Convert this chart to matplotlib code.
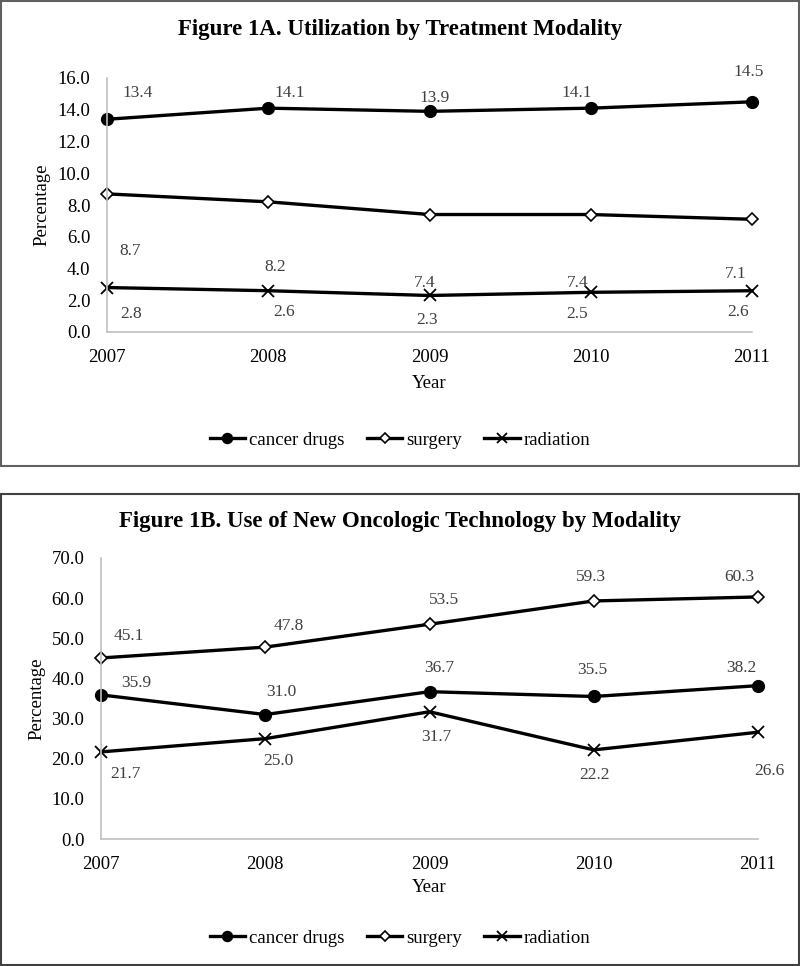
import matplotlib
matplotlib.use("Agg")
import matplotlib.pyplot as plt
from matplotlib.patches import Rectangle

plt.rcParams['font.family'] = ['Liberation Serif', 'DejaVu Serif']

years = [2007, 2008, 2009, 2010, 2011]
series_names = ["cancer drugs", "surgery", "radiation"]

a_cancer = [13.4, 14.1, 13.9, 14.1, 14.5]
a_surgery = [8.7, 8.2, 7.4, 7.4, 7.1]
a_radiation = [2.8, 2.6, 2.3, 2.5, 2.6]

b_cancer = [35.9, 31.0, 36.7, 35.5, 38.2]
b_surgery = [45.1, 47.8, 53.5, 59.3, 60.3]
b_radiation = [21.7, 25.0, 31.7, 22.2, 26.6]

title_a = "Figure 1A. Utilization by Treatment Modality"
title_b = "Figure 1B. Use of New Oncologic Technology by Modality"

# label offsets in pixels (dx, dy with dy positive = down)
off_a = {
    "cancer drugs": [(31, -26), (21, -15), (5, -13), (-14, -15), (-3, -30)],
    "surgery": [(23, 57), (7, 65), (-5, 68), (-13, 68), (-16, 55)],
    "radiation": [(24, 26), (16, 21), (-2, 25), (-14, 22), (-14, 21)],
}
off_b = {
    "cancer drugs": [(35, -12), (16, -23), (10, -24), (-2, -26), (-17, -18)],
    "surgery": [(28, -22), (23, -21), (14, -24), (-3, -24), (-19, -20)],
    "radiation": [(24, 22), (13, 22), (7, 25), (1, 25), (11, 39)],
}

styles = {
    "cancer drugs": dict(marker='o', markersize=8.5, markerfacecolor='black', markeredgecolor='black'),
    "surgery": dict(marker='D', markersize=6.5, markerfacecolor='white', markeredgecolor='black', markeredgewidth=1.2),
    "radiation": dict(marker='x', markersize=8, markeredgecolor='black', markeredgewidth=1.3),
}

W, H = 800, 966
fig = plt.figure(figsize=(8, 9.66), dpi=100)


def px_axes(l, r, top, bottom):
    return fig.add_axes([l / W, 1 - bottom / H, (r - l) / W, (bottom - top) / H])


def draw_panel(ax, data, offsets, ymax, ystep, title, title_y, legend_y, ylabel_x, xlabel_y, box, edge):
    for name, vals in zip(series_names, data):
        ax.plot(years, vals, color='black', lw=2.4, label=name, **styles[name])
        for x, v, (dx, dy) in zip(years, vals, offsets[name]):
            ax.annotate(f"{v:.1f}", (x, v), xytext=(dx, -dy), textcoords='offset pixels',
                        ha='center', va='center', fontsize=12.5, color='#404040')
    ax.set_xlim(years[0], years[-1])
    ax.set_ylim(0, ymax)
    ax.set_xticks(years)
    ax.set_xticklabels([str(y) for y in years])
    yt = [i * ystep for i in range(int(round(ymax / ystep)) + 1)]
    ax.set_yticks(yt)
    ax.set_yticklabels([f"{t:.1f}" for t in yt])
    ax.tick_params(length=0, labelsize=13.5, pad=12)
    for s in ['top', 'right']:
        ax.spines[s].set_visible(False)
    for s in ['left', 'bottom']:
        ax.spines[s].set_color('#c0c0c0')
        ax.spines[s].set_linewidth(1.2)
    for ln in ax.lines:
        ln.set_clip_on(False)
    fig.text(0.5, 1 - title_y / H, title, ha='center', va='center', fontsize=16.5, fontweight='bold')
    pos = ax.get_position()
    fig.text(ylabel_x / W, (pos.y0 + pos.y1) / 2, "Percentage", rotation=90, ha='center', va='center', fontsize=13.5)
    fig.text((pos.x0 + pos.x1) / 2, 1 - xlabel_y / H, "Year", ha='center', va='center', fontsize=13.5)
    handles, labels = ax.get_legend_handles_labels()
    fig.legend(handles, labels, loc='center', bbox_to_anchor=(0.5, 1 - legend_y / H), ncol=3,
               frameon=False, fontsize=13.5, handlelength=1.9, handletextpad=0.2, columnspacing=1.2,
               markerscale=0.85)
    x0, y0, x1, y1 = box
    fig.add_artist(Rectangle((x0 / W, 1 - y1 / H), (x1 - x0) / W, (y1 - y0) / H,
                             transform=fig.transFigure, fill=False, edgecolor=edge, lw=1.5))


ax_a = px_axes(107, 752, 78, 332)
draw_panel(ax_a, [a_cancer, a_surgery, a_radiation], off_a, 16.0, 2.0, title_a,
           30, 440, 42, 383, (1, 1, 799, 466), '#606060')

ax_b = px_axes(101, 758, 558, 839)
draw_panel(ax_b, [b_cancer, b_surgery, b_radiation], off_b, 70.0, 10.0, title_b,
           522, 938, 37, 887, (1, 494, 799, 965), '#404040')

fig.savefig("out.png", dpi=100)
